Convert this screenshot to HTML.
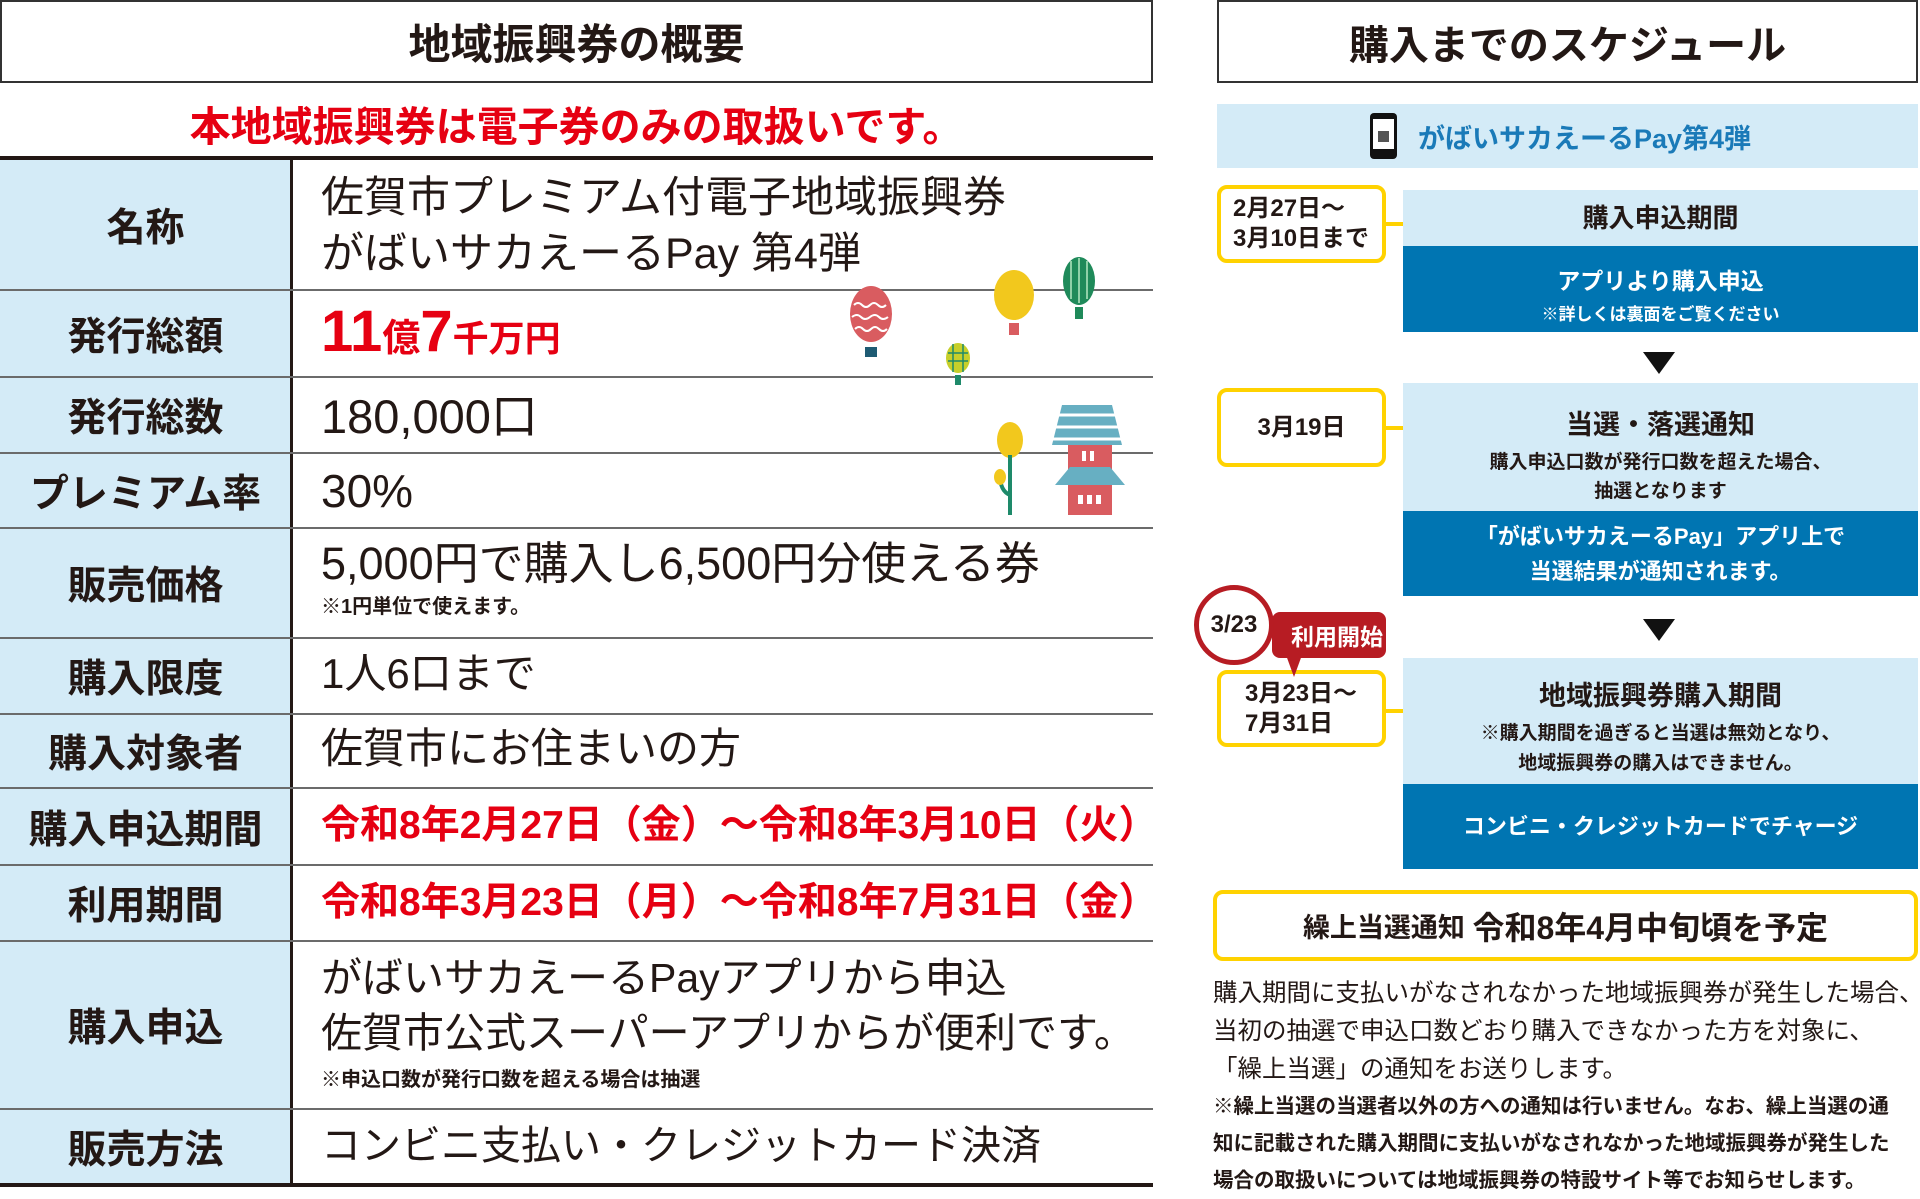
<!DOCTYPE html>
<html><head><meta charset="utf-8"><style>
*{margin:0;padding:0;box-sizing:border-box}
body{width:1920px;height:1192px;background:#fff;position:relative;overflow:hidden;font-family:"Liberation Sans","Noto Sans CJK JP",sans-serif;color:#231815}
.a{position:absolute}
.c{display:flex;align-items:center;justify-content:center;text-align:center}
.b{font-weight:bold}
.lab{position:absolute;left:0;width:291px;background:#d4ebf7;font-weight:bold;font-size:39px;display:flex;align-items:center;justify-content:center}
.hl{position:absolute;left:0;width:1153px;height:2px;background:#6b6b6b}
.val{position:absolute;left:321px;font-size:39px;white-space:nowrap;line-height:1}
.red{color:#e60012;font-weight:bold}
.ybox{position:absolute;left:1217px;width:169px;border:4px solid #ffd200;border-radius:10px;background:#fff;font-weight:bold;font-size:24px;line-height:1.25;display:flex;align-items:center;justify-content:center}
.conn{position:absolute;left:1386px;width:28px;height:4px;background:#ffd200}
.lt{position:absolute;left:1403px;width:515px;background:#d4ebf7;text-align:center;font-weight:bold}
.dk{position:absolute;left:1403px;width:515px;background:#0075b2;color:#fff;text-align:center;font-weight:bold}
.tri{position:absolute;width:0;height:0;border-left:16px solid transparent;border-right:16px solid transparent;border-top:22px solid #111}
</style></head><body>
<div class="a c b" style="left:0;top:0;width:1153px;height:83px;border:2px solid #333;font-size:42px">地域振興券の概要</div>
<div class="a c red" style="left:0;top:99px;width:1153px;height:48px;font-size:41px">本地域振興券は電子券のみの取扱いです。</div>
<div class="a" style="left:0;top:156px;width:1153px;height:4px;background:#231815"></div>

<div class="lab" style="top:160px;height:129px">名称</div>
<div class="lab" style="top:291px;height:85px">発行総額</div>
<div class="lab" style="top:378px;height:74px">発行総数</div>
<div class="lab" style="top:454px;height:73px">プレミアム率</div>
<div class="lab" style="top:529px;height:108px">販売価格</div>
<div class="lab" style="top:639px;height:74px">購入限度</div>
<div class="lab" style="top:715px;height:72px">購入対象者</div>
<div class="lab" style="top:789px;height:75px">購入申込期間</div>
<div class="lab" style="top:866px;height:74px">利用期間</div>
<div class="lab" style="top:942px;height:166px">購入申込</div>
<div class="lab" style="top:1110px;height:74px">販売方法</div>
<div class="a" style="left:290px;top:160px;width:3px;height:1026px;background:#231815"></div>
<div class="hl" style="top:289px"></div><div class="hl" style="top:376px"></div><div class="hl" style="top:452px"></div><div class="hl" style="top:527px"></div><div class="hl" style="top:637px"></div><div class="hl" style="top:713px"></div><div class="hl" style="top:787px"></div><div class="hl" style="top:864px"></div><div class="hl" style="top:940px"></div><div class="hl" style="top:1108px"></div>
<div class="a" style="left:0;top:1183px;width:1153px;height:4px;background:#231815"></div>

<div class="val" style="top:177px;font-size:43px">佐賀市プレミアム付電子地域振興券</div>
<div class="val" style="top:233px;font-size:43px">がばいサカえーるPay 第4弾</div>
<div class="val red" style="top:303px"><span style="font-size:58px">11</span><span style="font-size:38px">億</span><span style="font-size:58px">7</span><span style="font-size:36px">千万円</span></div>
<div class="val" style="top:393px;font-size:47px">180,000口</div>
<div class="val" style="top:468px;font-size:46px">30%</div>
<div class="val" style="top:541px;font-size:45px">5,000円で購入し6,500円分使える券</div>
<div class="val b" style="top:597px;font-size:20px">※1円単位で使えます。</div>
<div class="val" style="top:653px;font-size:42px">1人6口まで</div>
<div class="val" style="top:728px;font-size:42px">佐賀市にお住まいの方</div>
<div class="val red" style="top:806px;font-size:39px">令和8年2月27日（金）～令和8年3月10日（火）</div>
<div class="val red" style="top:883px;font-size:39px">令和8年3月23日（月）～令和8年7月31日（金）</div>
<div class="val" style="top:958px;font-size:41px">がばいサカえーるPayアプリから申込</div>
<div class="val" style="top:1013px;font-size:41px">佐賀市公式スーパーアプリからが便利です。</div>
<div class="val b" style="top:1070px;font-size:20px">※申込口数が発行口数を超える場合は抽選</div>
<div class="val" style="top:1126px;font-size:40px">コンビニ支払い・クレジットカード決済</div>

<svg class="a" style="left:840px;top:255px" width="300" height="260" viewBox="0 0 300 260">
<g><ellipse cx="31" cy="59" rx="21" ry="28" fill="#d95c60"/><path d="M14 50q4-4 8 0t8 0t8 0t8 0M12 62q5-4 9 0t9 0t9 0t9 0M15 74q4-4 8 0t8 0t8 0t8 0" stroke="#fff" stroke-width="2" fill="none"/><rect x="25" y="92" width="12" height="10" fill="#1e5b73"/></g>
<g><ellipse cx="174" cy="40" rx="20" ry="25" fill="#f2c81d"/><rect x="169" y="68" width="10" height="12" fill="#d95c60"/></g>
<g><ellipse cx="239" cy="26" rx="16" ry="24" fill="#1f8a5a"/><path d="M231 6v38M239 3v45M247 6v38" stroke="#8fd0a8" stroke-width="2"/><rect x="235" y="52" width="8" height="12" fill="#1f8a5a"/></g>
<g><ellipse cx="118" cy="103" rx="12" ry="15" fill="#c7cf2a"/><path d="M108 98h20M108 106h20M113 89v28M123 89v28" stroke="#1e8a6a" stroke-width="1.5"/><rect x="115" y="120" width="6" height="10" fill="#1e8a6a"/></g>
<g><ellipse cx="170" cy="185" rx="13" ry="18" fill="#f2c81d"/><path d="M170 200v64M170 240q-10-4-10-20" stroke="#1e8a6a" stroke-width="4" fill="none"/><ellipse cx="160" cy="222" rx="6" ry="8" fill="#f2c81d"/></g>
<g><path d="M222 150h50l10 40h-70z" fill="#67afc2"/><path d="M216 160h68M214 172h72M213 184h74" stroke="#fff" stroke-width="3"/><rect x="228" y="190" width="44" height="70" fill="#d95c60"/><path d="M215 230l15-18h40l15 18z" fill="#67afc2"/><rect x="242" y="196" width="4" height="10" fill="#fff"/><rect x="250" y="196" width="4" height="10" fill="#fff"/><rect x="238" y="240" width="5" height="9" fill="#fff"/><rect x="247" y="240" width="5" height="9" fill="#fff"/><rect x="256" y="240" width="5" height="9" fill="#fff"/></g>
</svg>

<div class="a c b" style="left:1217px;top:0;width:701px;height:83px;border:2px solid #333;font-size:40px">購入までのスケジュール</div>
<div class="a" style="left:1217px;top:104px;width:701px;height:64px;background:#d4ebf7"></div>
<div class="a" style="left:1370px;top:113px;width:27px;height:46px;background:#111;border-radius:4px"><div style="position:absolute;left:3px;top:6px;width:21px;height:30px;background:#fff"></div><div style="position:absolute;left:8px;top:18px;width:11px;height:11px;background:#555"></div></div>
<div class="a b" style="left:1418px;top:117px;font-size:27px;color:#1a7ab8;white-space:nowrap">がばいサカえーるPay第4弾</div>

<div class="ybox" style="top:185px;height:78px;justify-content:flex-start;padding-left:12px">2月27日～<br>3月10日まで</div>
<div class="conn" style="top:222px"></div>
<div class="ybox" style="top:388px;height:79px">3月19日</div>
<div class="conn" style="top:426px"></div>
<div class="ybox" style="top:670px;height:77px;justify-content:flex-start;padding-left:24px">3月23日～<br>7月31日</div>
<div class="conn" style="top:709px"></div>

<div class="lt" style="top:190px;height:56px;font-size:26px;line-height:56px">購入申込期間</div>
<div class="dk" style="top:246px;height:86px"><div style="font-size:23px;margin-top:16px">アプリより購入申込</div><div style="font-size:17px;margin-top:4px">※詳しくは裏面をご覧ください</div></div>
<div class="tri" style="left:1643px;top:352px"></div>
<div class="lt" style="top:383px;height:128px"><div style="font-size:27px;margin-top:20px">当選・落選通知</div><div style="font-size:19px;line-height:29px;margin-top:6px">購入申込口数が発行口数を超えた場合、<br>抽選となります</div></div>
<div class="dk" style="top:511px;height:85px;font-size:22px;line-height:35px;padding-top:8px">「がばいサカえーるPay」アプリ上で<br>当選結果が通知されます。</div>
<div class="tri" style="left:1643px;top:619px"></div>
<div class="lt" style="top:658px;height:126px"><div style="font-size:27px;margin-top:16px">地域振興券購入期間</div><div style="font-size:19px;line-height:30px;margin-top:6px">※購入期間を過ぎると当選は無効となり、<br>地域振興券の購入はできません。</div></div>
<div class="dk" style="top:784px;height:85px;font-size:22px;line-height:85px">コンビニ・クレジットカードでチャージ</div>

<div class="a c b" style="left:1272px;top:612px;width:114px;height:46px;background:#b71c23;color:#fff;border-radius:8px;font-size:23px;padding-left:16px">利用開始</div>
<div class="a" style="left:1286px;top:655px;width:0;height:0;border-left:8px solid transparent;border-right:8px solid transparent;border-top:22px solid #b71c23"></div>
<div class="a c b" style="left:1194px;top:585px;width:80px;height:80px;border:5px solid #b71c23;border-radius:50%;background:#fff;font-size:24px">3/23</div>

<div class="a c" style="left:1213px;top:890px;width:705px;height:71px;border:4px solid #ffd200;border-radius:10px;font-weight:bold"><span style="font-size:27px;font-weight:600">繰上当選通知&nbsp;</span><span style="font-size:32px">令和8年4月中旬頃を予定</span></div>
<div class="a" style="left:1213px;top:975px;font-size:24.5px;line-height:38px;white-space:nowrap">購入期間に支払いがなされなかった地域振興券が発生した場合、<br>当初の抽選で申込口数どおり購入できなかった方を対象に、<br>「繰上当選」の通知をお送りします。</div>
<div class="a b" style="left:1213px;top:1088px;font-size:20.5px;line-height:37px;white-space:nowrap">※繰上当選の当選者以外の方への通知は行いません。なお、繰上当選の通<br>知に記載された購入期間に支払いがなされなかった地域振興券が発生した<br>場合の取扱いについては地域振興券の特設サイト等でお知らせします。</div>
</body></html>
